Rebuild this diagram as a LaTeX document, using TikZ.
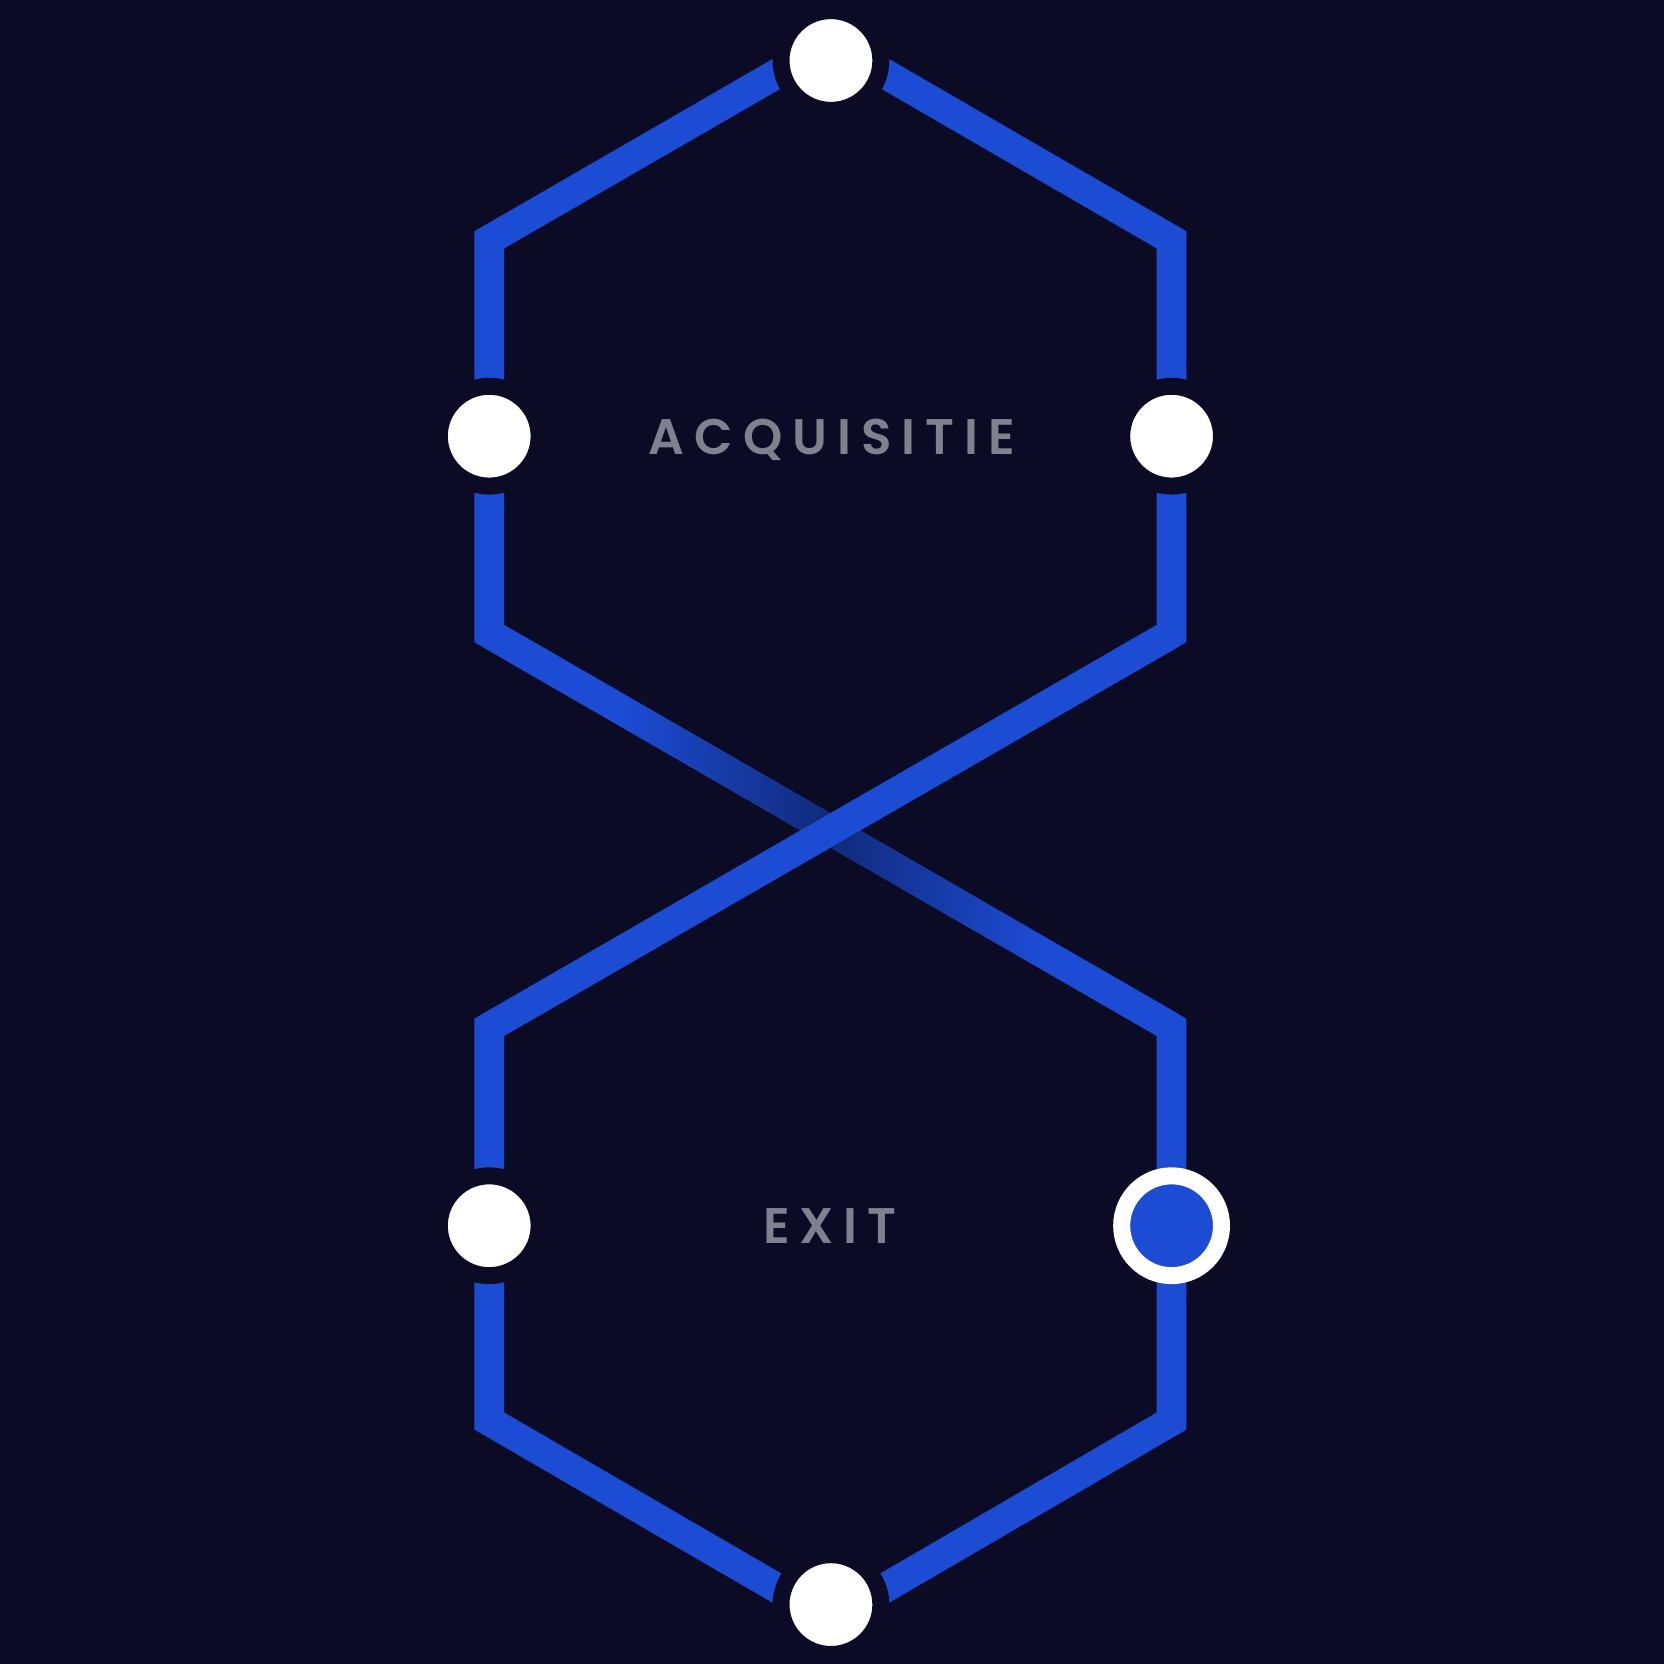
\documentclass[tikz,border=0pt]{standalone}
\usepackage{fontspec}
\usetikzlibrary{calc}
\newfontfamily\labelfont{Poppins}[UprightFont=* SemiBold, LetterSpace=20]
\definecolor{night}{HTML}{0B0B26}
\definecolor{lineblue}{HTML}{1C4BD4}
\definecolor{deepblue}{HTML}{112B7A}
\definecolor{labelgray}{HTML}{80808F}
\pgfdeclarehorizontalshading{crossfade}{100bp}{color(0bp)=(lineblue); color(35bp)=(lineblue); color(50bp)=(deepblue); color(65bp)=(lineblue); color(100bp)=(lineblue)}
\pgfdeclarelayer{back}
\pgfsetlayers{back,main}

\begin{document}
\begin{tikzpicture}[x=0.01cm, y=-0.01cm,
    dot/.style={circle, inner sep=0pt, minimum size=0.94cm, line width=0.16cm, draw=night, fill=white},
    here/.style={dot, draw=white, fill=lineblue},
    track/.style={draw=lineblue, line width=0.28cm, line join=miter},
    tag/.style={anchor=base, text=labelgray, font=\labelfont\fontsize{13.4}{16}\selectfont}]
  \useasboundingbox (0,0) rectangle (1568,1568);
  % corners of the two hexagons
  \coordinate (ta) at (783,40);
  \coordinate (c1) at (461,226);
  \coordinate (c2) at (461,597);
  \coordinate (c3) at (1104,226);
  \coordinate (c4) at (1104,597);
  \coordinate (c5) at (461,968);
  \coordinate (c6) at (461,1339);
  \coordinate (c7) at (1104,968);
  \coordinate (c8) at (1104,1339);
  \coordinate (ba) at (783,1526);
  % stops
  \node[dot] (t) at (783,57) {};
  \node[dot] (l1) at (461,411) {};
  \node[dot] (r1) at (1104,411) {};
  \node[dot] (l2) at (461,1155) {};
  \node[here] (r2) at (1104,1155) {};
  \node[dot] (b) at (783,1512) {};
  \node[tag] (acq) at (784,428) {ACQUISITIE};
  \node[tag] (exit) at (782,1172) {EXIT};
  \begin{pgfonlayer}{back}
    \fill[night] (0,0) rectangle (1568,1568);
    \path[track] (ta) -- (c1) -- (l1.center) -- (c2) -- (c7) -- (r2.center) -- (c8) -- (ba)
      -- (c6) -- (l2.center) -- (c5) -- (c4) -- (r1.center) -- (c3) -- cycle;
    \shade[shading=crossfade] ($(c2)!0.14cm!90:(c7)$) -- ($(c2)!0.14cm!-90:(c7)$)
      -- ($(c7)!0.14cm!90:(c2)$) -- ($(c7)!0.14cm!-90:(c2)$) -- cycle;
    \path[track] (c5) -- (c4);
  \end{pgfonlayer}
\end{tikzpicture}
\end{document}
